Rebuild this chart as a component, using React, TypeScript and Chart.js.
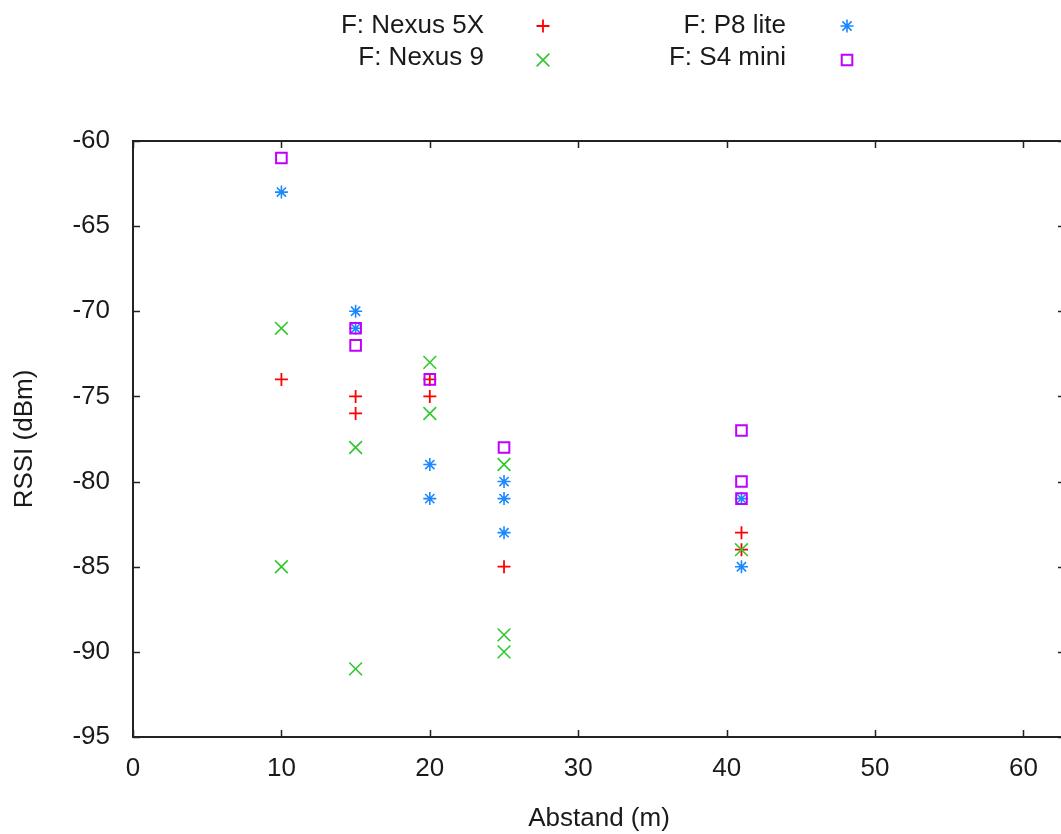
import React, { useEffect, useRef } from 'react';
import { Chart, registerables } from 'chart.js';

Chart.register(...registerables);

// ---- data ----
const seriesLabels = ['F: Nexus 5X', 'F: Nexus 9', 'F: P8 lite', 'F: S4 mini'];

const nexus5xDist = [10, 15, 15, 20, 20, 25, 41, 41];
const nexus5xRssi = [-74, -75, -76, -74, -75, -85, -83, -84];

const nexus9Dist = [10, 10, 15, 15, 20, 20, 25, 25, 25, 41];
const nexus9Rssi = [-71, -85, -78, -91, -73, -76, -79, -89, -90, -84];

const p8liteDist = [10, 15, 15, 20, 20, 25, 25, 25, 41, 41];
const p8liteRssi = [-63, -70, -71, -79, -81, -80, -81, -83, -81, -85];

const s4miniDist = [10, 15, 15, 20, 25, 41, 41, 41];
const s4miniRssi = [-61, -71, -72, -74, -78, -77, -80, -81];

const xTickValues = [0, 10, 20, 30, 40, 50, 60];
const yTickValues = [-60, -65, -70, -75, -80, -85, -90, -95];

const xTitle = 'Abstand (m)';
const yTitle = 'RSSI (dBm)';

// ---- styles ----
const colors = ['#ff0000', '#2ec82e', '#1a88ff', '#c000ff'];
const styles = ['cross', 'crossRot', 'star', 'rect'];
const radii = [6.5, 9, 6.5, 7.5];
const widths = [1.8, 1.6, 1.6, 2];
const FONT = '"Liberation Sans", Arial, sans-serif';
const TEXT = '#1a1a1a';

function toPoints(xs: number[], ys: number[]) {
  return xs.map((x, i) => ({ x, y: ys[i] }));
}

const allX = [nexus5xDist, nexus9Dist, p8liteDist, s4miniDist];
const allY = [nexus5xRssi, nexus9Rssi, p8liteRssi, s4miniRssi];

function drawMarker(ctx: CanvasRenderingContext2D, style: string, x: number, y: number, r: number, color: string, w: number) {
  ctx.save();
  ctx.strokeStyle = color;
  ctx.lineWidth = w;
  ctx.beginPath();
  if (style === 'cross' || style === 'star') {
    ctx.moveTo(x - r, y); ctx.lineTo(x + r, y);
    ctx.moveTo(x, y - r); ctx.lineTo(x, y + r);
  }
  if (style === 'crossRot' || style === 'star') {
    const d = r * Math.SQRT1_2;
    ctx.moveTo(x - d, y - d); ctx.lineTo(x + d, y + d);
    ctx.moveTo(x - d, y + d); ctx.lineTo(x + d, y - d);
  }
  if (style === 'rect') {
    const s = r * Math.SQRT1_2;
    ctx.rect(x - s, y - s, 2 * s, 2 * s);
  }
  ctx.stroke();
  ctx.restore();
}

const framePlugin = {
  id: 'gnuFrame',
  beforeDatasetsDraw(chart: any) {
    const { ctx, chartArea: a, scales } = chart;
    const xs = scales.x;
    const ys = scales.y;
    ctx.save();
    ctx.strokeStyle = '#222';
    ctx.lineWidth = 2;
    ctx.strokeRect(a.left, a.top, a.right - a.left, a.bottom - a.top);
    ctx.lineWidth = 1.5;
    ctx.beginPath();
    const tl = 7;
    for (const t of xs.ticks) {
      const px = Math.round(xs.getPixelForValue(t.value)) + 0.5;
      ctx.moveTo(px, a.bottom); ctx.lineTo(px, a.bottom - tl);
      ctx.moveTo(px, a.top); ctx.lineTo(px, a.top + tl);
    }
    for (const t of ys.ticks) {
      const py = Math.round(ys.getPixelForValue(t.value)) + 0.5;
      ctx.moveTo(a.left, py); ctx.lineTo(a.left + tl, py);
      ctx.moveTo(a.right, py); ctx.lineTo(a.right - tl, py);
    }
    ctx.stroke();
    ctx.restore();
  },
};

const legendPlugin = {
  id: 'gnuLegend',
  afterDraw(chart: any) {
    const { ctx } = chart;
    const textRight = [484, 786];
    const markerX = [543, 847];
    const baseline = [33, 65];
    const markerY = [26, 60];
    ctx.save();
    ctx.font = `26px ${FONT}`;
    ctx.fillStyle = TEXT;
    ctx.textAlign = 'right';
    ctx.textBaseline = 'alphabetic';
    chart.data.datasets.forEach((ds: any, i: number) => {
      const col = Math.floor(i / 2);
      const row = i % 2;
      ctx.fillText(ds.label, textRight[col], baseline[row]);
      drawMarker(ctx, ds.pointStyle, markerX[col], markerY[row], ds.pointRadius, ds.pointBorderColor, ds.pointBorderWidth);
    });
    ctx.restore();
  },
};

export default function App() {
  const ref = useRef<HTMLCanvasElement | null>(null);

  useEffect(() => {
    if (!ref.current) return;
    const datasets = seriesLabels.map((label, i) => ({
      label,
      data: toPoints(allX[i], allY[i]),
      pointStyle: styles[i],
      pointRadius: radii[i],
      pointBorderWidth: widths[i],
      pointBorderColor: colors[i],
      pointBackgroundColor: 'rgba(0,0,0,0)',
      borderColor: colors[i],
      backgroundColor: 'rgba(0,0,0,0)',
      showLine: false,
      order: seriesLabels.length - i,
    }));

    const chart = new Chart(ref.current, {
      type: 'scatter',
      data: { datasets },
      plugins: [framePlugin, legendPlugin],
      options: {
        animation: false,
        responsive: false,
        devicePixelRatio: 1,
        events: [],
        layout: { padding: { top: 141, right: 35, bottom: 0, left: 0 } },
        plugins: { legend: { display: false }, tooltip: { enabled: false }, title: { display: false } },
        scales: {
          x: {
            type: 'linear',
            min: 0,
            max: 62.8,
            grid: { display: false, drawTicks: false },
            border: { display: false },
            afterBuildTicks: (scale: any) => {
              scale.ticks = xTickValues.map((v) => ({ value: v }));
            },
            ticks: {
              stepSize: 10,
              includeBounds: false,
              padding: 16,
              color: TEXT,
              font: { family: FONT, size: 26 },
              maxRotation: 0,
            },
            title: {
              display: true,
              text: xTitle,
              color: TEXT,
              font: { family: FONT, size: 26 },
              padding: { top: 0, bottom: 0 },
            },
            afterFit: (scale: any) => {
              scale.height = 97;
            },
          },
          y: {
            type: 'linear',
            min: -95,
            max: -60,
            grid: { display: false, drawTicks: false },
            border: { display: false },
            afterBuildTicks: (scale: any) => {
              scale.ticks = yTickValues.map((v) => ({ value: v }));
            },
            ticks: {
              stepSize: 5,
              padding: 23,
              color: TEXT,
              font: { family: FONT, size: 26 },
            },
            title: {
              display: true,
              text: yTitle,
              color: TEXT,
              font: { family: FONT, size: 26 },
              padding: { top: 9, bottom: 0 },
            },
            afterFit: (scale: any) => {
              scale.width = 133;
            },
          },
        },
      },
    } as any);
    return () => chart.destroy();
  }, []);

  return (
    <div style={{ position: 'fixed', left: 0, top: 0, width: 1061, height: 834, overflow: 'hidden', background: '#ffffff' }}>
      <canvas ref={ref} width={1100} height={834} style={{ display: 'block', width: 1100, height: 834 }} />
    </div>
  );
}
